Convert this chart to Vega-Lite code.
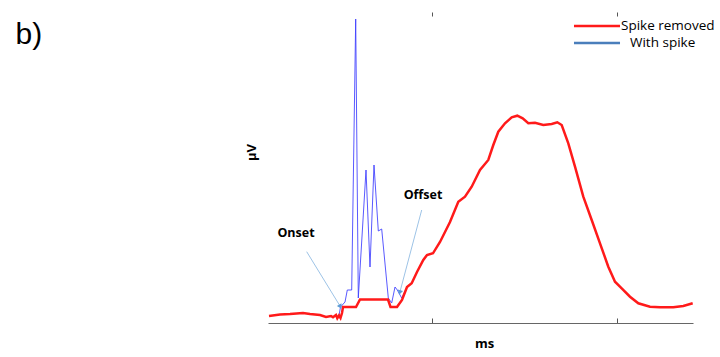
{
  "$schema": "https://vega.github.io/schema/vega-lite/v6.json",
  "width": 425,
  "height": 311,
  "autosize": {"type": "none"},
  "padding": {"left": 268, "top": 12, "right": 27, "bottom": 34},
  "background": "white",
  "config": {"view": {"stroke": null}, "font": "Open Sans"},
  "datasets": {
    "removed": [
      {"t": 1, "v": 7}, {"t": 12, "v": 8.5}, {"t": 22, "v": 9}, {"t": 35, "v": 10}, {"t": 42, "v": 9}, {"t": 52, "v": 8},
      {"t": 58, "v": 6}, {"t": 63, "v": 7}, {"t": 65, "v": 5.7}, {"t": 68, "v": 8}, {"t": 69.3, "v": 4.7}, {"t": 71, "v": 7.5},
      {"t": 72.5, "v": 5}, {"t": 74, "v": 10}, {"t": 75, "v": 16}, {"t": 88, "v": 16}, {"t": 92, "v": 23.5}, {"t": 120, "v": 23.5},
      {"t": 122.5, "v": 16}, {"t": 129, "v": 16}, {"t": 134, "v": 23}, {"t": 139, "v": 36}, {"t": 143.7, "v": 39.7}, {"t": 149, "v": 51},
      {"t": 155.3, "v": 63}, {"t": 159, "v": 68}, {"t": 165, "v": 69.7}, {"t": 172, "v": 81}, {"t": 182, "v": 101}, {"t": 190.3, "v": 121.3},
      {"t": 197, "v": 126.3}, {"t": 203.7, "v": 136.3}, {"t": 212, "v": 153}, {"t": 220.3, "v": 163}, {"t": 225.3, "v": 178}, {"t": 230.3, "v": 191.3},
      {"t": 237, "v": 199.7}, {"t": 243.7, "v": 205.7}, {"t": 249.3, "v": 207.3}, {"t": 254.7, "v": 204.7}, {"t": 260.3, "v": 199.7}, {"t": 267, "v": 200.3},
      {"t": 275.3, "v": 198}, {"t": 283.7, "v": 199}, {"t": 289.3, "v": 200.7}, {"t": 293.7, "v": 198}, {"t": 300.3, "v": 179.7}, {"t": 307, "v": 156.3},
      {"t": 315.3, "v": 126.3}, {"t": 323.7, "v": 103}, {"t": 332, "v": 79.7}, {"t": 340.3, "v": 56.3}, {"t": 347, "v": 41.3}, {"t": 353.7, "v": 34.7},
      {"t": 362, "v": 26.3}, {"t": 370.3, "v": 19.7}, {"t": 382, "v": 16.3}, {"t": 392, "v": 15.7}, {"t": 405.3, "v": 15.7}, {"t": 415.3, "v": 17},
      {"t": 424.7, "v": 19.7}
    ],
    "spike": [
      {"t": 68, "v": 8}, {"t": 69.3, "v": 4.7}, {"t": 71, "v": 7.5}, {"t": 72.5, "v": 16}, {"t": 77, "v": 21}, {"t": 79.3, "v": 33},
      {"t": 83.7, "v": 33}, {"t": 87.7, "v": 304}, {"t": 90.3, "v": 25}, {"t": 98, "v": 153}, {"t": 102, "v": 56}, {"t": 106, "v": 158},
      {"t": 110.3, "v": 92}, {"t": 113.7, "v": 94}, {"t": 120.3, "v": 25}, {"t": 123.7, "v": 20}, {"t": 127, "v": 36}, {"t": 129.3, "v": 33},
      {"t": 133.7, "v": 25}, {"t": 138, "v": 34}
    ],
    "arrows": [
      {"x": 38.7, "y": 71.3, "x2": 72, "y2": 17, "angle": 148.5},
      {"x": 153.7, "y": 113, "x2": 132, "y2": 31.3, "angle": 195}
    ],
    "labels": [
      {"x": 28, "y": 90, "label": "Onset"},
      {"x": 155, "y": 128, "label": "Offset"}
    ]
  },
  "resolve": {"axis": {"x": "independent", "y": "independent"}},
  "layer": [
    {
      "data": {"name": "spike"},
      "mark": {"type": "line", "color": "#3c3cff", "strokeWidth": 1, "opacity": 0.85},
      "encoding": {
        "x": {"field": "t", "type": "quantitative", "scale": {"domain": [0, 425], "nice": false, "zero": false},
          "axis": {"orient": "bottom", "values": [164, 349], "labels": false, "grid": false, "tickSize": -5, "tickColor": "#555", "domainColor": "#666", "domainWidth": 1.2,
            "title": "ms", "titleFont": "Open Sans", "titleFontSize": 13, "titleFontWeight": "bold", "titleColor": "black", "titlePadding": 14, "titleX": 216}},
        "y": {"field": "v", "type": "quantitative", "scale": {"domain": [0, 311], "nice": false, "zero": false},
          "axis": {"orient": "left", "domain": false, "ticks": false, "labels": false, "grid": false, "title": "µV", "titleFont": "Open Sans", "titleFontSize": 13, "titleFontWeight": "bold", "titleColor": "black", "titlePadding": 10, "titleY": 140}}
      }
    },
    {
      "data": {"name": "removed"},
      "transform": [{"calculate": "'Spike removed'", "as": "series"}],
      "mark": {"type": "line", "strokeWidth": 2.5},
      "encoding": {
        "x": {"field": "t", "type": "quantitative",
          "axis": {"orient": "top", "values": [164, 349], "labels": false, "grid": false, "domain": false, "tickSize": -4, "tickColor": "#555",
            "title": "b)", "titleFont": "Liberation Sans", "titleFontSize": 30, "titleFontWeight": "normal", "titleColor": "black",
            "titleAngle": 0, "titleAlign": "left", "titleBaseline": "alphabetic", "titleX": -253, "titleY": 31}},
        "y": {"field": "v", "type": "quantitative", "axis": null},
        "color": {"field": "series", "type": "nominal",
          "scale": {"domain": ["Spike removed", "With spike"], "range": ["#ff1a1a", "#4a7ebb"]},
          "legend": {"orient": "none", "legendX": 321, "legendY": 6, "title": null, "symbolType": "M-3.54,0H3.54", "symbolSize": 169, "symbolStrokeWidth": 2.5,
            "labelFont": "Open Sans", "labelFontSize": 13.5, "labelColor": "black", "labelOffset": 16, "rowPadding": 2,
            "labelExpr": "datum.label == 'With spike' ? '\u200b\u2002\u2009With spike' : datum.label"}}
      }
    },
    {
      "data": {"name": "arrows"},
      "mark": {"type": "rule", "color": "#9dc3e6", "strokeWidth": 1},
      "encoding": {
        "x": {"field": "x", "type": "quantitative", "axis": null},
        "y": {"field": "y", "type": "quantitative", "axis": null},
        "x2": {"field": "x2"},
        "y2": {"field": "y2"}
      }
    },
    {
      "data": {"name": "arrows"},
      "mark": {"type": "point", "shape": "triangle", "filled": true, "color": "#5b9bd5", "size": 30, "opacity": 1},
      "encoding": {
        "x": {"field": "x2", "type": "quantitative", "axis": null},
        "y": {"field": "y2", "type": "quantitative", "axis": null},
        "angle": {"field": "angle", "type": "quantitative", "scale": null}
      }
    },
    {
      "data": {"name": "labels"},
      "mark": {"type": "text", "font": "Open Sans", "fontSize": 12.5, "fontWeight": "bold", "color": "black"},
      "encoding": {
        "x": {"field": "x", "type": "quantitative", "axis": null},
        "y": {"field": "y", "type": "quantitative", "axis": null},
        "text": {"field": "label"}
      }
    }
  ]
}
